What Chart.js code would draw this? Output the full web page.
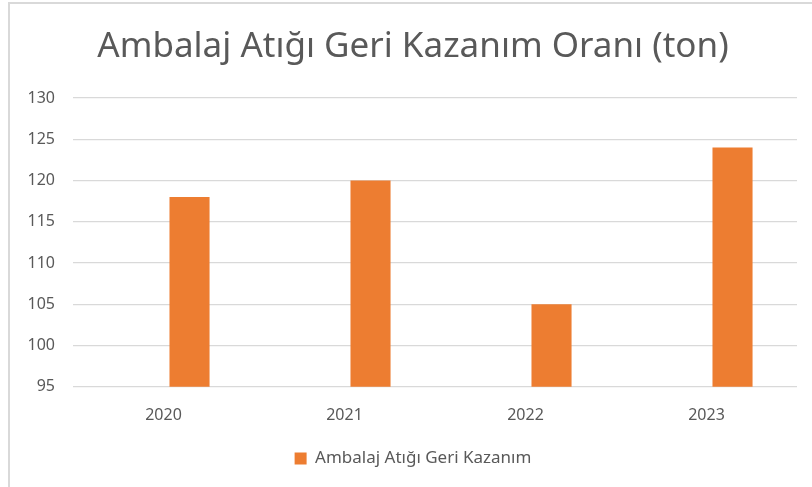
<!DOCTYPE html>
<html>
<head>
<meta charset="utf-8">
<script src="https://cdn.jsdelivr.net/npm/chart.js@4"></script>
<style>
  html, body { margin: 0; padding: 0; background: #fff; overflow: hidden; }
  .frame { position: absolute; left: 8px; top: 2px; width: 900px; height: 600px;
           border-left: 2px solid #d9d9d9; border-top: 2px solid #d9d9d9; }
  .wrap { position: absolute; left: 0; top: 0; width: 812px; height: 487px; }
</style>
</head>
<body>
<div class="frame"></div>
<div class="wrap"><canvas id="chart"></canvas></div>
<script>
  const years = ["2020", "2021", "2022", "2023"];
  // Excel kept an empty first series, which pushes the bars right of the tick
  const emptySeries = [null, null, null, null];
  const recovered = [118, 120, 105, 124];
  const yTicks = { min: 95, max: 130, step: 5 };

  const textColor = "#595959";
  const font = "'Noto Sans', 'Open Sans', sans-serif";

  new Chart(document.getElementById("chart"), {
    type: "bar",
    data: {
      labels: years,
      datasets: [
        { label: "", data: emptySeries, backgroundColor: "#4472C4" },
        { label: "Ambalaj Atığı Geri Kazanım", data: recovered, backgroundColor: "#ED7D31" }
      ]
    },
    options: {
      responsive: true,
      maintainAspectRatio: false,
      animation: false,
      datasets: { bar: { categoryPercentage: 0.575, barPercentage: 0.77 } },
      layout: { padding: { left: 19, right: 5, top: 16, bottom: 10 } },
      plugins: {
        title: {
          display: true,
          text: "Ambalaj Atığı Geri Kazanım Oranı (ton)",
          color: textColor,
          font: { family: font, size: 35, weight: "normal" },
          padding: { top: 10, bottom: 30 }
        },
        legend: {
          position: "bottom",
          labels: {
            color: textColor,
            font: { family: font, size: 17 },
            boxWidth: 12,
            boxHeight: 12,
            padding: 14,
            filter: (item) => item.datasetIndex === 1
          }
        },
        tooltip: { enabled: false }
      },
      scales: {
        x: {
          grid: { display: false },
          border: { display: false },
          ticks: { color: textColor, font: { family: font, size: 16 }, padding: 11 }
        },
        y: {
          min: yTicks.min,
          max: yTicks.max,
          grid: { color: "#d9d9d9", lineWidth: 1.3, drawTicks: false },
          border: { display: false },
          ticks: { stepSize: yTicks.step, color: textColor, font: { family: font, size: 16 }, padding: 18 },
          afterFit: (scale) => { scale.width = 54; }
        },
        // empty right-hand spacer so the title centre sits where Excel put it
        yRight: {
          position: "right",
          grid: { display: false },
          border: { display: false },
          ticks: { display: false },
          afterFit: (scale) => { scale.width = 10; }
        }
      }
    }
  });
</script>
</body>
</html>
